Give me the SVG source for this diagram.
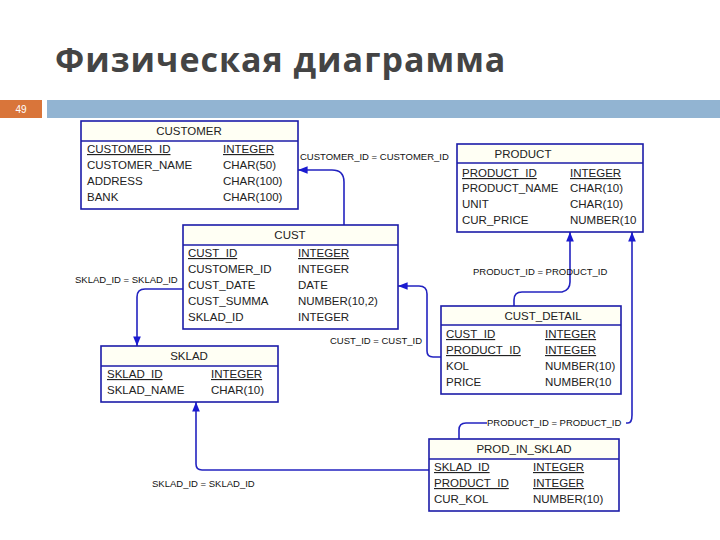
<svg xmlns="http://www.w3.org/2000/svg" width="720" height="540" viewBox="0 0 720 540">
<style>
.t{font-family:"Liberation Sans",Arial,sans-serif;font-size:11.5px;fill:#222}
.h{font-family:"Liberation Sans",Arial,sans-serif;font-size:11.5px;fill:#222;text-anchor:middle}
.u{text-decoration:underline}
.lb{font-family:"Liberation Sans",Arial,sans-serif;font-size:9.5px;fill:#111}
.box{fill:#fff;stroke:#1c1ca8;stroke-width:1.6}
.hd{fill:#fffff4}
.sep{stroke:#1c1ca8;stroke-width:1.4}
.c{fill:none;stroke:#2323c0;stroke-width:1.6}
</style>
<defs><marker id="a" viewBox="0 0 10 10" refX="10" refY="5" markerWidth="6" markerHeight="6" orient="auto"><path d="M0,1L10,5L0,9z" fill="#1a1ad0"/></marker></defs>
<rect width="720" height="540" fill="#fff"/>
<text x="55" y="72" font-family="'Open Sans','DejaVu Sans',sans-serif" font-size="34" font-weight="bold" fill="#444" letter-spacing="1">Физическая диаграмма</text>
<rect x="0" y="100" width="42" height="18" fill="#d9753a"/>
<text x="21" y="113" font-family="'Liberation Sans',sans-serif" font-size="10" fill="#fff" text-anchor="middle">49</text>
<rect x="47" y="100" width="673" height="18" fill="#92b4d2"/>
<g id="connectors">
<path class="c" d="M344,225V182Q344,170 332,170H298" marker-end="url(#a)"/>
<text class="lb" x="300" y="160">CUSTOMER_ID = CUSTOMER_ID</text>
<path class="c" d="M183,289H145Q137,289 137,297V346" marker-end="url(#a)"/>
<text class="lb" x="75" y="283">SKLAD_ID = SKLAD_ID</text>
<path class="c" d="M441,357H433Q427,357 427,351V294Q427,286 419,286H398" marker-end="url(#a)"/>
<text class="lb" x="330" y="344">CUST_ID = CUST_ID</text>
<path class="c" d="M514,306V300Q514,292 522,292H562Q570,290 570,282V232" marker-end="url(#a)"/>
<text class="lb" x="473" y="275">PRODUCT_ID = PRODUCT_ID</text>
<path class="c" d="M459,439V430Q459,423 466,423H628Q632,423 632,415V232" marker-end="url(#a)"/>
<rect x="487" y="417" width="139" height="11" fill="#fff"/>
<text class="lb" x="487" y="426">PRODUCT_ID = PRODUCT_ID</text>
<path class="c" d="M429,470H202Q196,470 196,464V402" marker-end="url(#a)"/>
<text class="lb" x="152" y="487">SKLAD_ID = SKLAD_ID</text>
</g>
<g id="customer">
<rect class="box" x="81" y="121" width="217" height="88"/><rect class="hd" x="82" y="122" width="215" height="19"/><line class="sep" x1="81" y1="141" x2="298" y2="141"/>
<text class="h" x="189" y="135">CUSTOMER</text>
<text class="t u" x="87" y="153">CUSTOMER_ID</text><text class="t u" x="223" y="153">INTEGER</text>
<text class="t" x="87" y="169">CUSTOMER_NAME</text><text class="t" x="223" y="169">CHAR(50)</text>
<text class="t" x="87" y="185">ADDRESS</text><text class="t" x="223" y="185">CHAR(100)</text>
<text class="t" x="87" y="201">BANK</text><text class="t" x="223" y="201">CHAR(100)</text>
</g>
<g id="cust">
<rect class="box" x="183" y="225" width="215" height="104"/><rect class="hd" x="184" y="226" width="213" height="19"/><line class="sep" x1="183" y1="245" x2="398" y2="245"/>
<text class="h" x="290" y="239">CUST</text>
<text class="t u" x="188" y="257">CUST_ID</text><text class="t u" x="298" y="257">INTEGER</text>
<text class="t" x="188" y="273">CUSTOMER_ID</text><text class="t" x="298" y="273">INTEGER</text>
<text class="t" x="188" y="289">CUST_DATE</text><text class="t" x="298" y="289">DATE</text>
<text class="t" x="188" y="305">CUST_SUMMA</text><text class="t" x="298" y="305">NUMBER(10,2)</text>
<text class="t" x="188" y="321">SKLAD_ID</text><text class="t" x="298" y="321">INTEGER</text>
</g>
<g id="product">
<rect class="box" x="457" y="144" width="186" height="88"/><rect class="hd" x="458" y="145" width="184" height="18"/><line class="sep" x1="457" y1="163" x2="643" y2="163"/>
<text class="h" x="523" y="158">PRODUCT</text>
<text class="t u" x="462" y="177">PRODUCT_ID</text><text class="t u" x="570" y="177">INTEGER</text>
<text class="t" x="462" y="192">PRODUCT_NAME</text><text class="t" x="570" y="192">CHAR(10)</text>
<text class="t" x="462" y="208">UNIT</text><text class="t" x="570" y="208">CHAR(10)</text>
<text class="t" x="462" y="224">CUR_PRICE</text><text class="t" x="570" y="224">NUMBER(10</text>
</g>
<g id="cust_detail">
<rect class="box" x="441" y="306" width="180" height="88"/><rect class="hd" x="442" y="307" width="178" height="18"/><line class="sep" x1="441" y1="325" x2="621" y2="325"/>
<text class="h" x="543" y="320">CUST_DETAIL</text>
<text class="t u" x="446" y="338">CUST_ID</text><text class="t u" x="545" y="338">INTEGER</text>
<text class="t u" x="446" y="354">PRODUCT_ID</text><text class="t u" x="545" y="354">INTEGER</text>
<text class="t" x="446" y="370">KOL</text><text class="t" x="545" y="370">NUMBER(10)</text>
<text class="t" x="446" y="386">PRICE</text><text class="t" x="545" y="386">NUMBER(10</text>
</g>
<g id="sklad">
<rect class="box" x="101" y="346" width="177" height="56"/><rect class="hd" x="102" y="347" width="175" height="19"/><line class="sep" x1="101" y1="366" x2="278" y2="366"/>
<text class="h" x="189" y="360">SKLAD</text>
<text class="t u" x="107" y="378">SKLAD_ID</text><text class="t u" x="211" y="378">INTEGER</text>
<text class="t" x="107" y="394">SKLAD_NAME</text><text class="t" x="211" y="394">CHAR(10)</text>
</g>
<g id="prod_in_sklad">
<rect class="box" x="429" y="439" width="190" height="72"/><rect class="hd" x="430" y="440" width="188" height="19"/><line class="sep" x1="429" y1="459" x2="619" y2="459"/>
<text class="h" x="524" y="453">PROD_IN_SKLAD</text>
<text class="t u" x="434" y="471">SKLAD_ID</text><text class="t u" x="533" y="471">INTEGER</text>
<text class="t u" x="434" y="487">PRODUCT_ID</text><text class="t u" x="533" y="487">INTEGER</text>
<text class="t" x="434" y="503">CUR_KOL</text><text class="t" x="533" y="503">NUMBER(10)</text>
</g>
</svg>
